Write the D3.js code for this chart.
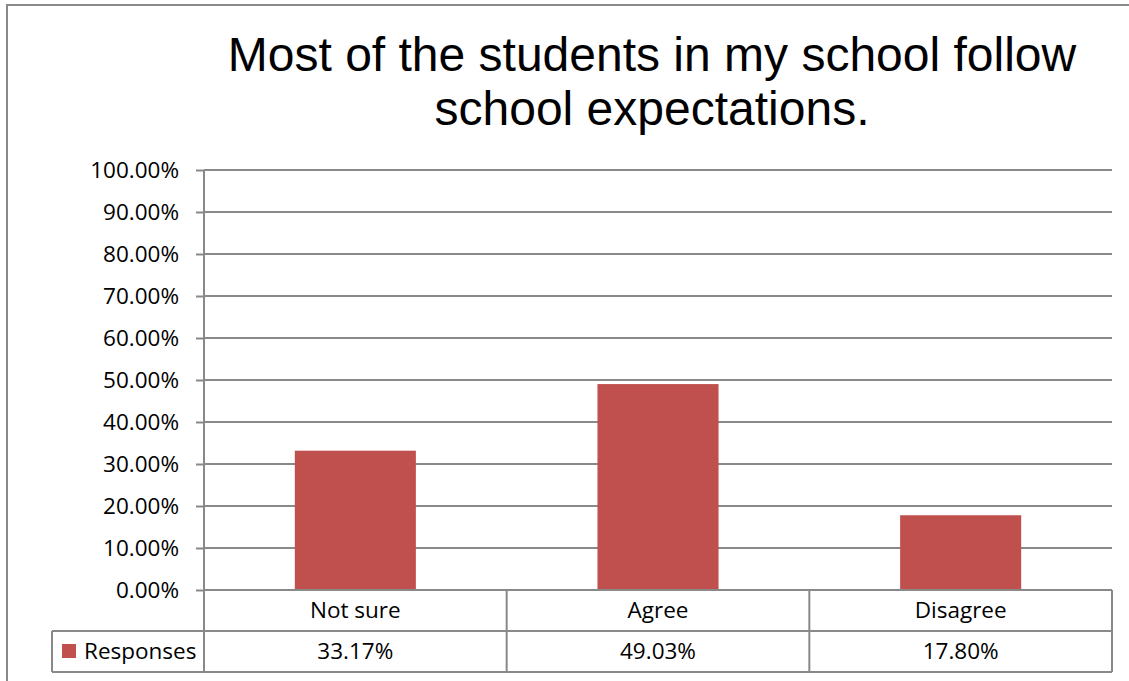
<!DOCTYPE html>
<html>
<head>
<meta charset="utf-8">
<script src="https://cdn.jsdelivr.net/npm/d3@7"></script>
<style>
  body { margin: 0; background: #fff; }
  svg { display: block; }
</style>
</head>
<body>
<script>
// chart data
var categories = ["Not sure", "Agree", "Disagree"]
var responses = [33.17, 49.03, 17.80]
var seriesName = "Responses"
var titleLines = ["Most of the students in my school follow", "school expectations."]
var yTicks = [0, 10, 20, 30, 40, 50, 60, 70, 80, 90, 100]

var width = 1129, height = 681
var plot = { left: 204, right: 1112, top: 170, bottom: 590 }
var rowH = 41
var labelFont = "'Open Sans', sans-serif"
var labelSize = "22.5px"
var gridColor = "#898989"
var barColor = "#C0504D"

var svg = d3.select("body").append("svg")
    .attr("width", width)
    .attr("height", height)

// outer chart border (runs off the right and bottom edge)
svg.append("rect")
    .attr("x", 7).attr("y", 5)
    .attr("width", 1140).attr("height", 700)
    .style("fill", "none")
    .style("stroke", gridColor)
    .style("stroke-width", 2)

// title
svg.append("text")
    .attr("text-anchor", "middle")
    .style("font-family", "'Liberation Sans', Arial, sans-serif")
    .style("font-size", "48px")
    .style("fill", "#000")
    .selectAll("tspan")
    .data(titleLines)
    .join("tspan")
    .attr("x", 652)
    .attr("y", (d, i) => 71 + i * 54)
    .text(d => d)

var yScale = d3.scaleLinear()
    .domain([0, 100])
    .range([plot.bottom, plot.top])

var xScale = d3.scaleBand()
    .domain(categories)
    .range([plot.left, plot.right])
    .paddingInner(0.6)
    .paddingOuter(0.3)

var cellScale = d3.scaleBand()
    .domain(categories)
    .range([plot.left, plot.right])

// y axis ticks + labels
var yAxis = svg.append("g")
    .attr("transform", "translate(" + plot.left + ",0)")
    .call(d3.axisLeft(yScale)
        .tickValues(yTicks)
        .tickSize(8)
        .tickPadding(17)
        .tickFormat(d => d.toFixed(2) + "%"))
yAxis.select(".domain").remove()
yAxis.selectAll(".tick line").attr("stroke", gridColor).attr("stroke-width", 2)
yAxis.selectAll(".tick text")
    .style("font-family", labelFont)
    .style("font-size", labelSize)
    .style("fill", "#000")

// gridlines
svg.append("g")
    .selectAll("line")
    .data(yTicks)
    .join("line")
    .attr("x1", plot.left).attr("x2", plot.right)
    .attr("y1", d => yScale(d)).attr("y2", d => yScale(d))
    .attr("stroke", gridColor)
    .attr("stroke-width", 2)

// vertical axis line
svg.append("line")
    .attr("x1", plot.left).attr("x2", plot.left)
    .attr("y1", plot.top).attr("y2", plot.bottom + rowH * 2)
    .attr("stroke", gridColor)
    .attr("stroke-width", 2)

// bars
svg.append("g")
    .selectAll("rect")
    .data(responses)
    .join("rect")
    .attr("x", (d, i) => xScale(categories[i]))
    .attr("width", xScale.bandwidth())
    .attr("y", d => yScale(d))
    .attr("height", d => yScale(0) - yScale(d))
    .attr("fill", barColor)

// data table
var table = svg.append("g")
var tBottom = plot.bottom + rowH * 2

// horizontal rules
table.append("line")
    .attr("x1", plot.left).attr("x2", plot.right)
    .attr("y1", plot.bottom).attr("y2", plot.bottom)
table.append("line")
    .attr("x1", 52).attr("x2", plot.right)
    .attr("y1", plot.bottom + rowH).attr("y2", plot.bottom + rowH)
table.append("line")
    .attr("x1", 52).attr("x2", plot.right)
    .attr("y1", tBottom).attr("y2", tBottom)
table.append("line")
    .attr("x1", 52).attr("x2", 52)
    .attr("y1", plot.bottom + rowH).attr("y2", tBottom)
// column separators
table.selectAll("line.col")
    .data(categories)
    .join("line")
    .attr("class", "col")
    .attr("x1", d => cellScale(d) + cellScale.bandwidth())
    .attr("x2", d => cellScale(d) + cellScale.bandwidth())
    .attr("y1", plot.bottom).attr("y2", tBottom)
table.selectAll("line")
    .attr("stroke", gridColor)
    .attr("stroke-width", 2)

table.selectAll("text.cat")
    .data(categories)
    .join("text")
    .attr("class", "cat")
    .attr("x", d => cellScale(d) + cellScale.bandwidth() / 2)
    .attr("y", plot.bottom + rowH / 2)
    .attr("dy", "0.35em")
    .attr("text-anchor", "middle")
    .style("font-family", labelFont)
    .style("font-size", labelSize)
    .text(d => d)

table.selectAll("text.val")
    .data(responses)
    .join("text")
    .attr("class", "val")
    .attr("x", (d, i) => cellScale(categories[i]) + cellScale.bandwidth() / 2)
    .attr("y", plot.bottom + rowH * 1.5)
    .attr("dy", "0.35em")
    .attr("text-anchor", "middle")
    .style("font-family", labelFont)
    .style("font-size", labelSize)
    .text(d => d.toFixed(2) + "%")

// legend key
table.append("rect")
    .attr("x", 62).attr("y", 644)
    .attr("width", 14).attr("height", 14)
    .attr("fill", barColor)
table.append("text")
    .attr("x", 84)
    .attr("y", plot.bottom + rowH * 1.5)
    .attr("dy", "0.35em")
    .style("font-family", labelFont)
    .style("font-size", labelSize)
    .text(seriesName)
</script>
</body>
</html>
